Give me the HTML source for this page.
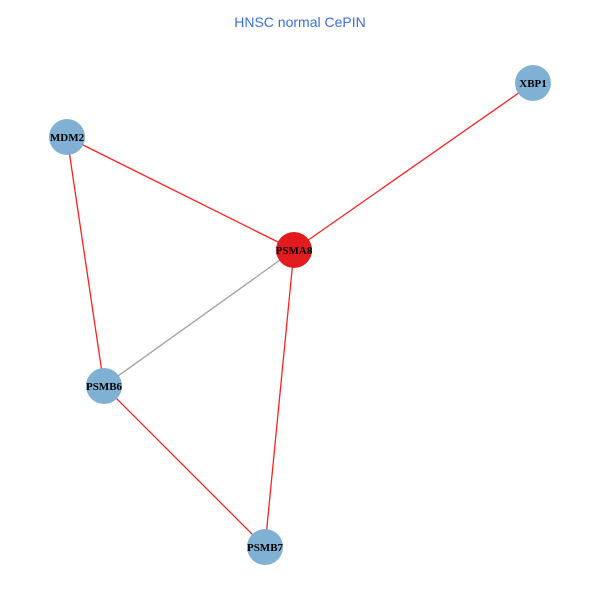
<!DOCTYPE html>
<html><head><style>body{margin:0;background:#fff}</style></head><body>
<svg width="600" height="600" xmlns="http://www.w3.org/2000/svg">
<rect width="600" height="600" fill="#fff"/>
<text x="300" y="27" text-anchor="middle" font-family="Liberation Sans, sans-serif" font-size="14" fill="#3a6fe0">HNSC normal CePIN</text>
<g stroke-width="1.3">
<line x1="533" y1="83" x2="294" y2="250" stroke="#ff2020"/>
<line x1="67" y1="137" x2="294" y2="250" stroke="#ff2020"/>
<line x1="67" y1="137" x2="104" y2="386" stroke="#ff2020"/>
<line x1="294" y1="250" x2="104" y2="386" stroke="#a0a0a0"/>
<line x1="294" y1="250" x2="265" y2="547" stroke="#ff2020"/>
<line x1="104" y1="386" x2="265" y2="547" stroke="#ff2020"/>
</g>
<g fill="#80b0d4">
<circle cx="533" cy="83" r="18"/>
<circle cx="67" cy="137" r="18"/>
<circle cx="104" cy="386" r="18"/>
<circle cx="265" cy="547" r="18"/>
</g>
<circle cx="294" cy="250" r="18" fill="#e21b1f"/>
<g font-family="Liberation Serif, serif" font-weight="bold" font-size="11" text-anchor="middle" fill="#000">
<text x="533" y="87">XBP1</text>
<text x="67" y="141">MDM2</text>
<text x="294" y="254">PSMA8</text>
<text x="104" y="390">PSMB6</text>
<text x="265" y="551">PSMB7</text>
</g>
</svg>
</body></html>
